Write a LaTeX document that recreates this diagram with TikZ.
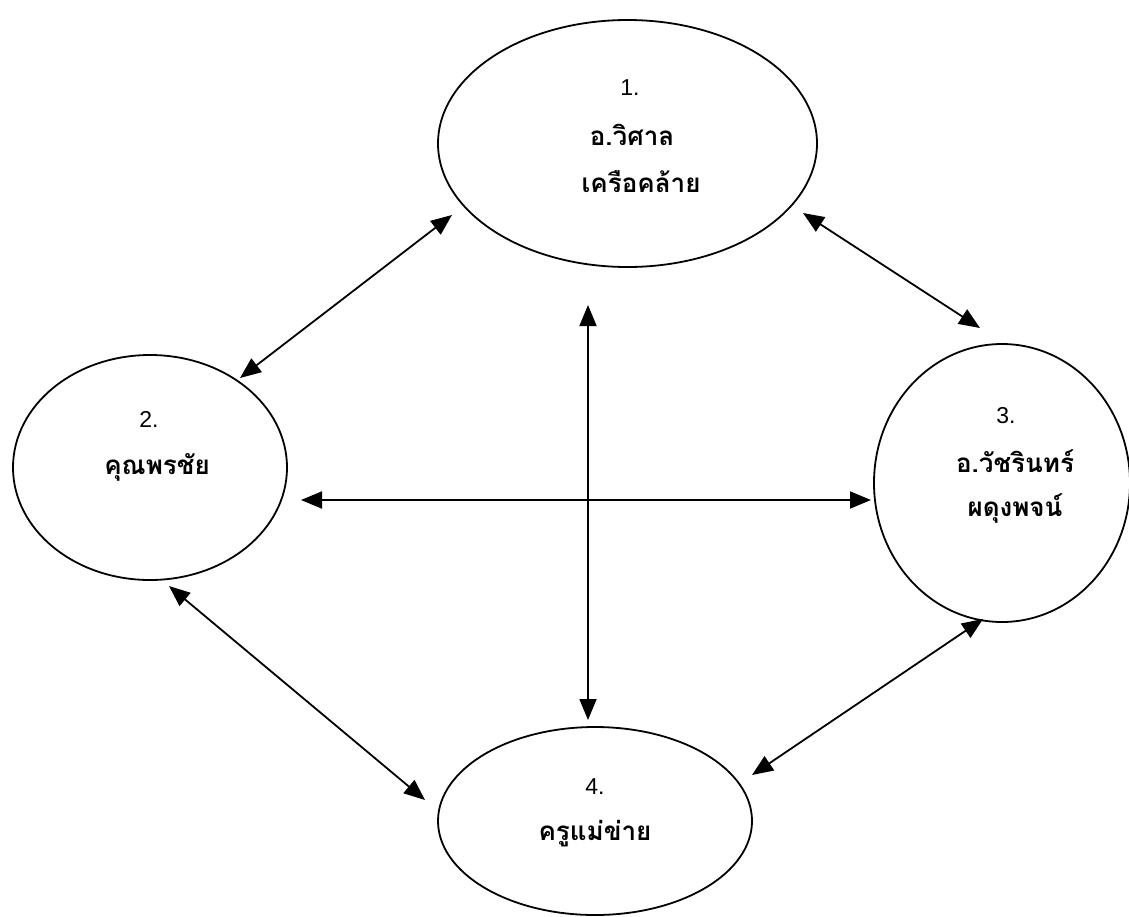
\documentclass[tikz,border=0pt]{standalone}
\usepackage{fontspec}
\setmainfont{Liberation Sans}
\newfontfamily\thaifont[Script=Thai]{Loma}
\usetikzlibrary{shapes.geometric,arrows.meta}
\tikzset{
  bubble/.style={draw, line width=1.8pt, ellipse, inner sep=0pt},
  numtext/.style={font=\fontsize{23}{26}\selectfont, inner sep=0pt},
  thaitext/.style={font=\thaifont\bfseries\fontsize{26}{30}\selectfont, inner sep=0pt},
  link/.style={line width=1.8pt, {Triangle[length=21pt,width=17pt]}-{Triangle[length=21pt,width=17pt]}}
}
\begin{document}
\begin{tikzpicture}[x=1pt,y=-1pt]
\useasboundingbox (0,0) rectangle (1129,916);
% ellipses
\node[bubble, minimum width=379pt, minimum height=247pt] (e1) at (627.5,143.5) {};
\node[bubble, minimum width=274pt, minimum height=225pt] (e2) at (150,467.5) {};
\node[bubble, minimum width=256pt, minimum height=278pt] (e3) at (1002,483) {};
\node[bubble, minimum width=314pt, minimum height=188pt] (e4) at (595,821) {};
% texts
\node[numtext] (n1) at (630,88) {1.};
\node[thaitext] (t1a) at (632,135) {อ.วิศาล};
\node[thaitext] (t1b) at (641,182) {เครือคล้าย};
\node[numtext] (n2) at (149,419) {2.};
\node[thaitext] (t2) at (157,467) {คุณพรชัย};
\node[numtext] (n3) at (1006,416) {3.};
\node[thaitext] (t3a) at (1015,461) {อ.วัชรินทร์};
\node[thaitext] (t3b) at (1015,508) {ผดุงพจน์};
\node[numtext] (n4) at (595,787) {4.};
\node[thaitext] (t4) at (595,834) {ครูแม่ข่าย};
% arrow end points
\coordinate (p12a) at (452,215);
\coordinate (p12b) at (240,378);
\coordinate (p13a) at (803,213);
\coordinate (p13b) at (980,328);
\coordinate (p14a) at (588,305);
\coordinate (p14b) at (588,720);
\coordinate (p23a) at (301,500);
\coordinate (p23b) at (871,500);
\coordinate (p24a) at (169,586);
\coordinate (p24b) at (425,800);
\coordinate (p34a) at (983,619);
\coordinate (p34b) at (752,775);
% connectors
\draw[link] (p12a) -- (p12b);
\draw[link] (p13a) -- (p13b);
\draw[link] (p14a) -- (p14b);
\draw[link] (p23a) -- (p23b);
\draw[link] (p24a) -- (p24b);
\draw[link] (p34a) -- (p34b);
\end{tikzpicture}
\end{document}
